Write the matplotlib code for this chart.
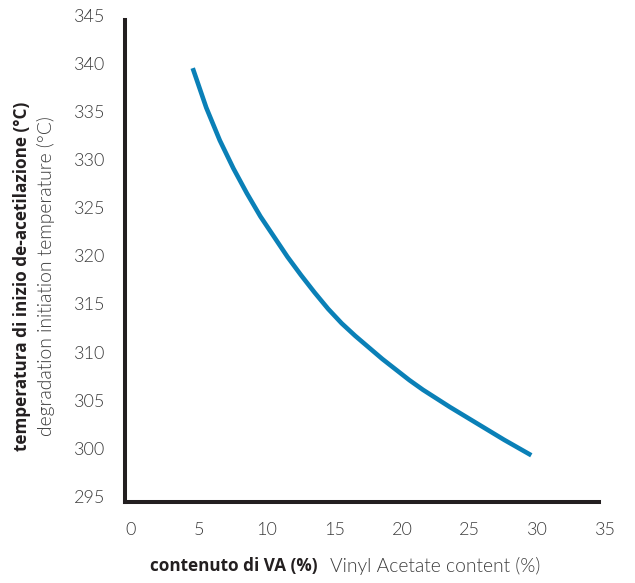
# -*- coding: utf-8 -*-
import matplotlib
matplotlib.use('Agg')
import matplotlib.pyplot as plt
import matplotlib.transforms as mtransforms
import numpy as np

# VA content (%) vs. degradation initiation temperature (°C)
va_content = np.array([5, 6, 7, 8, 9, 10, 11, 12, 13, 14, 15, 16, 17,
                       18, 19, 20, 21, 22, 23, 24, 25, 26, 27, 28, 29, 30])
temp_start = np.array([340.0, 335.9, 332.5, 329.6, 327.0, 324.6, 322.5,
                       320.4, 318.5, 316.7, 315.0, 313.5, 312.2, 311.0,
                       309.8, 308.7, 307.6, 306.6, 305.7, 304.8, 303.95,
                       303.1, 302.25, 301.4, 300.6, 299.8])
xticks = [0, 5, 10, 15, 20, 25, 30, 35]
yticks = [295, 300, 305, 310, 315, 320, 325, 330, 335, 340, 345]

ylabel_it = 'temperatura di inizio de-acetilazione (°C)'
ylabel_en = 'degradation initiation temperature (°C)'
xlabel_it = 'contenuto di VA (%)'
xlabel_en = 'Vinyl Acetate content (%)'

light = dict(family=['Lato', 'DejaVu Sans'], weight=300)
bold = dict(family=['Open Sans', 'DejaVu Sans'], weight='bold')
dark = '#231f20'
grey = '#3c3c3c'

fig = plt.figure(figsize=(6.35, 5.83), dpi=100)
ax = fig.add_axes([125/635, 1 - 501.5/583, 474/635, 481.5/583])

ax.plot(va_content, temp_start, color='#0a80b7', lw=3.3,
        solid_capstyle='butt', solid_joinstyle='round')

ax.set_xlim(0, 35)
ax.set_ylim(295, 345)
ax.set_xticks(xticks)
ax.set_yticks(yticks)
ax.set_xticklabels([str(t) for t in xticks], fontsize=13, color=grey, **light)
ax.set_yticklabels([str(t) for t in yticks], fontsize=13, color=grey, **light)
ax.tick_params(length=0)
ax.tick_params(axis='x', pad=15)
ax.tick_params(axis='y', pad=14)

# labels in the original sit a bit right / up from the ticks
dx = mtransforms.ScaledTranslation(6/100, 0, fig.dpi_scale_trans)
dy = mtransforms.ScaledTranslation(0, 5/100, fig.dpi_scale_trans)
for lab in ax.get_xticklabels():
    lab.set_transform(lab.get_transform() + dx)
for lab in ax.get_yticklabels():
    lab.set_transform(lab.get_transform() + dy)

for s in ['top', 'right']:
    ax.spines[s].set_visible(False)
for s in ['left', 'bottom']:
    ax.spines[s].set_linewidth(2.9)
    ax.spines[s].set_color(dark)

# two-language axis titles
fig.text(22/635, 1 - 276/583, ylabel_it, rotation=90, ha='center', va='center',
         fontsize=12.3, color=dark, **bold)
fig.text(46/635, 1 - 276/583, ylabel_en, rotation=90, ha='center', va='center',
         fontsize=13.9, color=grey, **light)
fig.text(318/635, 1 - 566/583, xlabel_it, ha='right', va='center',
         fontsize=12.3, color=dark, **bold)
fig.text(330/635, 1 - 566/583, xlabel_en, ha='left', va='center',
         fontsize=13.9, color=grey, **light)

fig.savefig('out.png', dpi=100)
